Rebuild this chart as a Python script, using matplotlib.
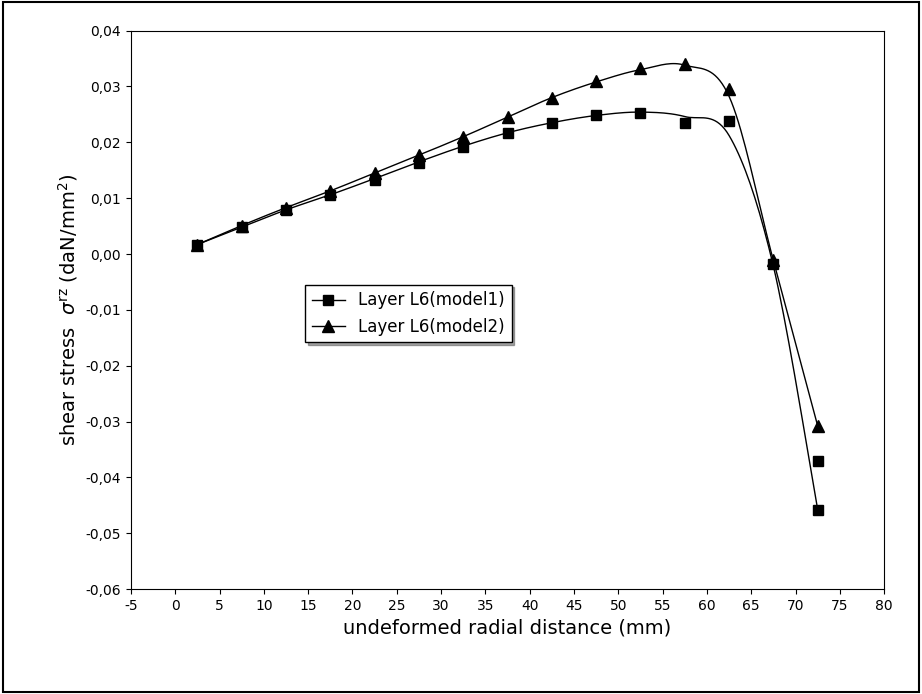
import numpy as np
import matplotlib.pyplot as plt
from matplotlib.patches import Rectangle

# measured points
x1 = [2.5, 7.5, 12.5, 17.5, 22.5, 27.5, 32.5, 37.5, 42.5, 47.5, 52.5, 57.5, 62.5, 67.5, 72.5, 72.5]
y1 = [0.0017, 0.0048, 0.0079, 0.0105, 0.0133, 0.0163, 0.0192, 0.0216, 0.0235, 0.0249, 0.0253, 0.0235, 0.0238, -0.0018, -0.037, -0.0458]
x2 = [2.5, 7.5, 12.5, 17.5, 22.5, 27.5, 32.5, 37.5, 42.5, 47.5, 52.5, 57.5, 62.5, 67.5, 72.5]
y2 = [0.0017, 0.0051, 0.0083, 0.0113, 0.0145, 0.0177, 0.0210, 0.0245, 0.0280, 0.0310, 0.0333, 0.0340, 0.0296, -0.0010, -0.0308]
# fitted curve knots
cx = [2.5, 7.5, 12.5, 17.5, 22.5, 27.5, 32.5, 37.5, 42.5, 47.5, 52.5, 57.5, 62.5, 67.5, 72.5]
cy1 = [0.0017, 0.0048, 0.0079, 0.0106, 0.0135, 0.0165, 0.0193, 0.0217, 0.0235, 0.0248, 0.0254, 0.0246, 0.0212, -0.0022, -0.0458]
cy2 = [0.0017, 0.0051, 0.0083, 0.0113, 0.0145, 0.0177, 0.0210, 0.0245, 0.0280, 0.0308, 0.0330, 0.0338, 0.0282, -0.0012, -0.0308]
xticks = list(range(-5, 81, 5))
yticks = [0.04, 0.03, 0.02, 0.01, 0.0, -0.01, -0.02, -0.03, -0.04, -0.05, -0.06]


def smooth(x, y, n=20):
    # catmull-rom through the knots
    p = np.column_stack([x, y]).astype(float)
    p = np.vstack([p[0], p, p[-1]])
    out = []
    t = np.linspace(0, 1, n)[:, None]
    for i in range(1, len(p) - 2):
        p0, p1, p2, p3 = p[i - 1], p[i], p[i + 1], p[i + 2]
        seg = 0.5 * ((2 * p1) + (-p0 + p2) * t + (2 * p0 - 5 * p1 + 4 * p2 - p3) * t**2
                     + (-p0 + 3 * p1 - 3 * p2 + p3) * t**3)
        out.append(seg)
    out = np.vstack(out)
    return out[:, 0], out[:, 1]


fig = plt.figure(figsize=(9.22, 6.94), dpi=100)
fig.patches.append(Rectangle((0.003, 0.003), 0.994, 0.994, transform=fig.transFigure,
                             fill=False, lw=1.5, ec='black'))
ax = fig.add_axes([0.142, 0.151, 0.817, 0.805])

sx, sy = smooth(cx, cy1)
ax.plot(sx, sy, color='black', lw=1)
ax.plot(x1, y1, 's', color='black', ms=7)
sx, sy = smooth(cx, cy2)
ax.plot(sx, sy, color='black', lw=1)
ax.plot(x2, y2, '^', color='black', ms=8)

ax.set_xlim(-5, 80)
ax.set_ylim(-0.06, 0.04)
ax.set_xticks(xticks)
ax.set_xticklabels([str(v) for v in xticks])
ax.set_yticks(yticks)
ax.set_yticklabels([f"{v:.2f}".replace('.', ',').replace('-0,00', '0,00') for v in yticks])
ax.tick_params(labelsize=10, direction='out')
ax.set_xlabel('undeformed radial distance (mm)', fontsize=14)
ax.set_ylabel(r'shear stress  $\sigma^{\mathrm{rz}}$ (daN/mm$^2$)', fontsize=14)

h1, = ax.plot([], [], 's-', color='black', ms=7, lw=1)
h2, = ax.plot([], [], '^-', color='black', ms=8, lw=1)
ax.legend([h1, h2], ['Layer L6(model1)', 'Layer L6(model2)'], loc='upper left',
          bbox_to_anchor=(0.22, 0.56), fontsize=12, fancybox=False, shadow=True,
          edgecolor='black', framealpha=1)

fig.savefig('out.png')
